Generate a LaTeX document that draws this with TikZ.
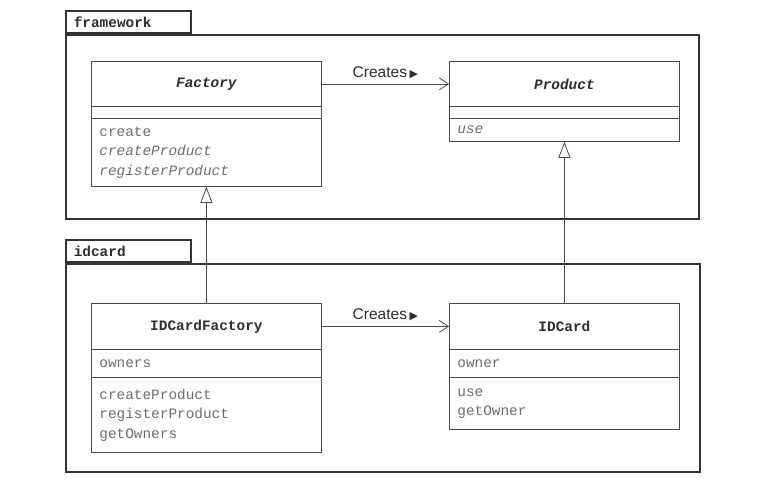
\documentclass[tikz,border=0pt]{standalone}
\usepackage{fontspec}
\setmainfont{Liberation Sans}
\setmonofont{Liberation Mono}
\newfontfamily\symfont{DejaVu Sans}
\usetikzlibrary{arrows.meta}
\definecolor{linecol}{HTML}{4A4A4A}
\definecolor{pkgcol}{HTML}{333333}
\definecolor{membcol}{HTML}{6E6E6E}
\definecolor{namecol}{HTML}{2E2E2E}
\begin{document}
\begin{tikzpicture}[x=1pt,y=-1pt,
  pkgbox/.style={draw=pkgcol,line width=1.6pt,anchor=north west,inner sep=0pt},
  pkgtab/.style={draw=pkgcol,line width=1.6pt,anchor=south west,minimum width=125pt,minimum height=22pt,
     inner xsep=8pt,inner ysep=0pt,text width=109pt,align=left,font=\ttfamily\bfseries\fontsize{14.4}{16}\selectfont,text=namecol},
  namecomp/.style={draw=linecol,line width=0.8pt,anchor=north west,minimum width=230pt,inner sep=0pt,
     font=\ttfamily\bfseries\fontsize{14.4}{16}\selectfont,text=namecol},
  comp/.style={draw=linecol,line width=0.8pt,anchor=north west,minimum width=230pt,inner xsep=8pt,inner ysep=0pt,
     text width=214pt,align=left,font=\ttfamily\fontsize{14.4}{19.5}\selectfont,text=membcol},
  assoc/.style={draw=linecol,line width=0.8pt,-{Straight Barb[length=9pt,width=12pt,line width=0.8pt]}},
  gen/.style={draw=linecol,line width=0.8pt,-{Triangle[open,length=16pt,width=12pt,line width=0.8pt,fill=white]}},
  lbl/.style={font=\fontsize{15.5}{17}\selectfont,text=namecol,inner sep=2pt}
]
\useasboundingbox (0,0) rectangle (762,488);
\fill[white] (0,0) rectangle (762,488);

% framework package
\node[pkgbox,minimum width=633pt,minimum height=184pt] (fwbox) at (65,34) {};
\node[pkgtab] (fwtab) at (65,34) {framework};

% idcard package
\node[pkgbox,minimum width=634pt,minimum height=208pt] (idbox) at (65,263) {};
\node[pkgtab] (idtab) at (65,263) {idcard};

% Factory
\node[namecomp,minimum height=45pt] (fname) at (91,61) {\itshape Factory};
\node[comp,minimum height=12pt] (fattr) at (91,106) {};
\node[comp,minimum height=68pt] (fmeth) at (91,118) {create\\\itshape createProduct\\\itshape registerProduct};

% Product
\node[namecomp,minimum height=45pt] (pname) at (449,61) {\itshape Product};
\node[comp,minimum height=12pt] (pattr) at (449,106) {};
\node[comp,minimum height=23pt] (pmeth) at (449,118) {\itshape use};

% IDCardFactory
\node[namecomp,minimum height=46pt] (ifname) at (91,303) {IDCardFactory};
\node[comp,minimum height=28pt] (ifattr) at (91,349) {owners};
\node[comp,minimum height=75pt] (ifmeth) at (91,377) {createProduct\\registerProduct\\getOwners};

% IDCard
\node[namecomp,minimum height=46pt] (icname) at (449,303) {IDCard};
\node[comp,minimum height=28pt] (icattr) at (449,349) {owner};
\node[comp,minimum height=52pt] (icmeth) at (449,377) {use\\getOwner};

% associations
\draw[assoc] (fname.east) -- node[lbl,above=3pt] {Creates\,{\symfont\fontsize{11}{12}\selectfont ▶}} (pname.west);
\draw[assoc] (ifname.east) -- node[lbl,above=3pt] {Creates\,{\symfont\fontsize{11}{12}\selectfont ▶}} (icname.west);

% generalizations
\draw[gen] (ifname.north) -- (fmeth.south);
\draw[gen] (icname.north) -- (pmeth.south);
\end{tikzpicture}
\end{document}
